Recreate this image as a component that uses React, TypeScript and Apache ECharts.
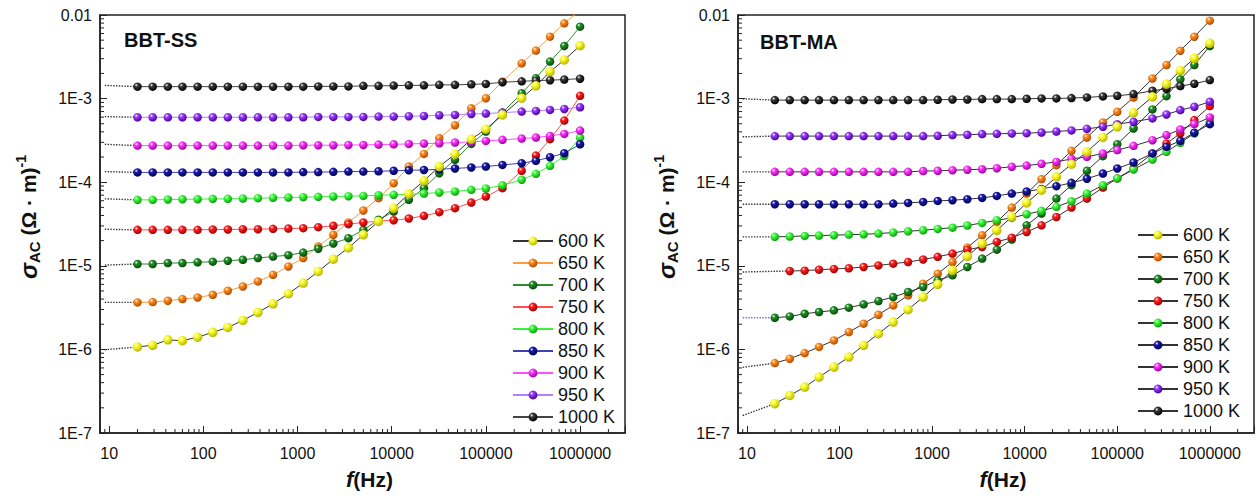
import React, { useEffect, useRef } from 'react';
import * as echarts from 'echarts';

// ---------- data ----------
const FREQ_HZ = [20, 29, 42, 60, 87, 126, 182, 263, 380, 550, 800, 1150, 1660, 2400, 3470, 5000, 7250, 10500, 15200, 22000, 32000, 47000, 70000, 100000, 150000, 240000, 340000, 480000, 680000, 1000000];
const TEMPS = ['600 K', '650 K', '700 K', '750 K', '800 K', '850 K', '900 K', '950 K', '1000 K'];

// BBT-SS (left panel), sigma_AC in (Ohm m)^-1
const SS_600 = [1.07e-6, 1.12e-6, 1.30e-6, 1.27e-6, 1.40e-6, 1.60e-6, 1.83e-6, 2.22e-6, 2.77e-6, 3.51e-6, 4.63e-6, 6.21e-6, 8.56e-6, 1.20e-5, 1.64e-5, 2.35e-5, 3.39e-5, 4.89e-5, 7.25e-5, 1.04e-4, 1.54e-4, 2.16e-4, 3.27e-4, 4.30e-4, 6.38e-4, 1.01e-3, 1.42e-3, 2.10e-3, 2.90e-3, 4.30e-3];
const SS_650 = [3.65e-6, 3.68e-6, 3.82e-6, 4.00e-6, 4.18e-6, 4.50e-6, 5.03e-6, 5.66e-6, 6.50e-6, 7.80e-6, 9.82e-6, 1.24e-5, 1.70e-5, 2.35e-5, 3.30e-5, 4.59e-5, 6.44e-5, 9.73e-5, 1.54e-4, 2.18e-4, 3.36e-4, 4.80e-4, 7.66e-4, 1.01e-3, 1.60e-3, 2.64e-3, 3.75e-3, 5.51e-3, 7.95e-3, 1.15e-2];
const SS_700 = [1.05e-5, 1.05e-5, 1.08e-5, 1.08e-5, 1.10e-5, 1.12e-5, 1.15e-5, 1.18e-5, 1.24e-5, 1.29e-5, 1.34e-5, 1.44e-5, 1.60e-5, 1.85e-5, 2.14e-5, 2.69e-5, 3.55e-5, 4.46e-5, 6.15e-5, 8.48e-5, 1.28e-4, 1.85e-4, 2.87e-4, 4.03e-4, 6.80e-4, 1.16e-3, 1.75e-3, 2.77e-3, 4.26e-3, 7.25e-3];
const SS_750 = [2.69e-5, 2.69e-5, 2.69e-5, 2.69e-5, 2.69e-5, 2.72e-5, 2.72e-5, 2.74e-5, 2.74e-5, 2.77e-5, 2.79e-5, 2.82e-5, 2.90e-5, 3.01e-5, 3.15e-5, 3.30e-5, 3.42e-5, 3.51e-5, 3.68e-5, 3.96e-5, 4.38e-5, 4.89e-5, 5.71e-5, 6.74e-5, 8.48e-5, 1.37e-4, 2.08e-4, 3.27e-4, 5.46e-4, 1.08e-3];
const SS_800 = [6.15e-5, 6.15e-5, 6.21e-5, 6.26e-5, 6.26e-5, 6.32e-5, 6.32e-5, 6.38e-5, 6.44e-5, 6.50e-5, 6.56e-5, 6.62e-5, 6.68e-5, 6.74e-5, 6.80e-5, 6.86e-5, 6.99e-5, 7.06e-5, 7.19e-5, 7.32e-5, 7.53e-5, 7.74e-5, 8.10e-5, 8.40e-5, 9.21e-5, 1.07e-4, 1.26e-4, 1.57e-4, 2.06e-4, 3.42e-4];
const SS_850 = [1.31e-4, 1.31e-4, 1.31e-4, 1.31e-4, 1.31e-4, 1.31e-4, 1.31e-4, 1.31e-4, 1.31e-4, 1.31e-4, 1.31e-4, 1.32e-4, 1.32e-4, 1.33e-4, 1.34e-4, 1.34e-4, 1.35e-4, 1.37e-4, 1.39e-4, 1.40e-4, 1.43e-4, 1.46e-4, 1.50e-4, 1.54e-4, 1.61e-4, 1.69e-4, 1.80e-4, 1.99e-4, 2.22e-4, 2.84e-4];
const SS_900 = [2.74e-4, 2.74e-4, 2.74e-4, 2.74e-4, 2.74e-4, 2.74e-4, 2.74e-4, 2.74e-4, 2.74e-4, 2.74e-4, 2.74e-4, 2.77e-4, 2.77e-4, 2.77e-4, 2.79e-4, 2.79e-4, 2.82e-4, 2.84e-4, 2.87e-4, 2.90e-4, 2.92e-4, 2.98e-4, 3.03e-4, 3.12e-4, 3.21e-4, 3.33e-4, 3.42e-4, 3.58e-4, 3.78e-4, 4.14e-4];
const SS_950 = [5.98e-4, 5.98e-4, 5.98e-4, 5.98e-4, 5.98e-4, 5.98e-4, 5.98e-4, 5.98e-4, 5.98e-4, 5.98e-4, 5.98e-4, 5.98e-4, 6.04e-4, 6.04e-4, 6.04e-4, 6.04e-4, 6.09e-4, 6.09e-4, 6.15e-4, 6.20e-4, 6.32e-4, 6.38e-4, 6.55e-4, 6.62e-4, 6.80e-4, 6.99e-4, 7.12e-4, 7.32e-4, 7.52e-4, 7.87e-4];
const SS_1000 = [1.39e-3, 1.39e-3, 1.39e-3, 1.39e-3, 1.39e-3, 1.39e-3, 1.39e-3, 1.39e-3, 1.39e-3, 1.39e-3, 1.39e-3, 1.39e-3, 1.40e-3, 1.40e-3, 1.40e-3, 1.42e-3, 1.42e-3, 1.43e-3, 1.44e-3, 1.44e-3, 1.46e-3, 1.46e-3, 1.48e-3, 1.50e-3, 1.57e-3, 1.61e-3, 1.64e-3, 1.66e-3, 1.69e-3, 1.73e-3];
// dotted low-frequency extrapolation, value at the 9 Hz end
const SS_EXT = [9.9e-7, 3.65e-6, 1.02e-5, 2.74e-5, 6.32e-5, 1.34e-4, 2.84e-4, 6.09e-4, 1.44e-3];

// BBT-MA (right panel)
const MA_600 = [2.24e-7, 2.81e-7, 3.54e-7, 4.66e-7, 6.14e-7, 8.09e-7, 1.12e-6, 1.54e-6, 2.12e-6, 2.99e-6, 4.23e-6, 6.00e-6, 8.83e-6, 1.30e-5, 1.84e-5, 2.66e-5, 3.84e-5, 5.65e-5, 8.02e-5, 1.16e-4, 1.64e-4, 2.31e-4, 3.43e-4, 4.60e-4, 6.77e-4, 1.05e-3, 1.49e-3, 2.16e-3, 3.03e-3, 4.58e-3];
const MA_650 = [6.86e-7, 7.73e-7, 9.04e-7, 1.07e-6, 1.28e-6, 1.61e-6, 2.03e-6, 2.60e-6, 3.36e-6, 4.43e-6, 6.11e-6, 8.05e-6, 1.11e-5, 1.65e-5, 2.32e-5, 3.35e-5, 4.97e-5, 7.31e-5, 1.09e-4, 1.60e-4, 2.37e-4, 3.43e-4, 5.18e-4, 6.96e-4, 1.03e-3, 1.74e-3, 2.52e-3, 3.74e-3, 5.50e-3, 8.56e-3];
const MA_700 = [2.39e-6, 2.48e-6, 2.67e-6, 2.80e-6, 2.93e-6, 3.16e-6, 3.46e-6, 3.79e-6, 4.23e-6, 4.86e-6, 5.58e-6, 6.70e-6, 7.69e-6, 9.68e-6, 1.22e-5, 1.56e-5, 2.06e-5, 3.05e-5, 4.21e-5, 6.37e-5, 9.21e-5, 1.37e-4, 2.05e-4, 2.85e-4, 4.39e-4, 7.42e-4, 1.07e-3, 1.70e-3, 2.52e-3, 4.25e-3];
const MA_750 = [null, 8.67e-6, 8.75e-6, 8.99e-6, 9.17e-6, 9.34e-6, 9.68e-6, 1.01e-5, 1.06e-5, 1.11e-5, 1.19e-5, 1.28e-5, 1.40e-5, 1.56e-5, 1.68e-5, 1.93e-5, 2.17e-5, 2.54e-5, 3.05e-5, 3.84e-5, 4.97e-5, 6.37e-5, 8.63e-5, 1.11e-4, 1.46e-4, 2.21e-4, 2.90e-4, 3.83e-4, 5.53e-4, 8.13e-4];
const MA_800 = [2.22e-5, 2.24e-5, 2.28e-5, 2.30e-5, 2.32e-5, 2.36e-5, 2.38e-5, 2.43e-5, 2.50e-5, 2.59e-5, 2.66e-5, 2.76e-5, 2.86e-5, 3.03e-5, 3.26e-5, 3.51e-5, 3.74e-5, 4.14e-5, 4.54e-5, 5.07e-5, 5.92e-5, 7.31e-5, 9.21e-5, 1.11e-4, 1.42e-4, 1.87e-4, 2.31e-4, 2.96e-4, 3.83e-4, 5.28e-4];
const MA_850 = [5.45e-5, 5.45e-5, 5.45e-5, 5.45e-5, 5.45e-5, 5.45e-5, 5.45e-5, 5.45e-5, 5.55e-5, 5.65e-5, 5.81e-5, 5.97e-5, 6.09e-5, 6.26e-5, 6.49e-5, 6.86e-5, 7.31e-5, 7.73e-5, 8.32e-5, 8.96e-5, 9.82e-5, 1.10e-4, 1.27e-4, 1.46e-4, 1.72e-4, 2.21e-4, 2.65e-4, 3.13e-4, 3.90e-4, 4.95e-4];
const MA_900 = [1.33e-4, 1.33e-4, 1.33e-4, 1.33e-4, 1.33e-4, 1.33e-4, 1.33e-4, 1.33e-4, 1.33e-4, 1.33e-4, 1.36e-4, 1.37e-4, 1.39e-4, 1.41e-4, 1.43e-4, 1.47e-4, 1.53e-4, 1.58e-4, 1.66e-4, 1.75e-4, 1.90e-4, 2.01e-4, 2.21e-4, 2.42e-4, 2.72e-4, 3.18e-4, 3.66e-4, 4.27e-4, 4.95e-4, 5.95e-4];
const MA_950 = [3.56e-4, 3.56e-4, 3.56e-4, 3.56e-4, 3.56e-4, 3.56e-4, 3.56e-4, 3.56e-4, 3.56e-4, 3.56e-4, 3.56e-4, 3.59e-4, 3.66e-4, 3.69e-4, 3.76e-4, 3.79e-4, 3.83e-4, 3.86e-4, 3.93e-4, 4.04e-4, 4.16e-4, 4.35e-4, 4.60e-4, 4.95e-4, 5.28e-4, 5.79e-4, 6.46e-4, 7.29e-4, 7.98e-4, 9.16e-4];
const MA_1000 = [9.59e-4, 9.59e-4, 9.59e-4, 9.59e-4, 9.59e-4, 9.59e-4, 9.59e-4, 9.59e-4, 9.59e-4, 9.59e-4, 9.59e-4, 9.68e-4, 9.77e-4, 9.77e-4, 9.86e-4, 9.86e-4, 9.86e-4, 9.95e-4, 1.005e-3, 1.005e-3, 1.014e-3, 1.033e-3, 1.062e-3, 1.081e-3, 1.132e-3, 1.241e-3, 1.311e-3, 1.411e-3, 1.505e-3, 1.665e-3];
const MA_EXT = [1.62e-7, 6.1e-7, 2.39e-6, 8.43e-6, 2.22e-5, 5.45e-5, 1.33e-4, 3.49e-4, 9.95e-4];

const X_TICK_LABELS = ['10', '100', '1000', '10000', '100000', '1000000'];
const Y_TICK_LABELS = ['1E-7', '1E-6', '1E-5', '1E-4', '1E-3', '0.01'];
const X_MINOR = [9, 20, 30, 40, 50, 60, 70, 80, 90, 200, 300, 400, 500, 600, 700, 800, 900, 2000, 3000, 4000, 5000, 6000, 7000, 8000, 9000, 20000, 30000, 40000, 50000, 60000, 70000, 80000, 90000, 200000, 300000, 400000, 500000, 600000, 700000, 800000, 900000, 2000000];
const Y_MINOR = [2e-7, 3e-7, 4e-7, 5e-7, 6e-7, 7e-7, 8e-7, 9e-7, 2e-6, 3e-6, 4e-6, 5e-6, 6e-6, 7e-6, 8e-6, 9e-6, 2e-5, 3e-5, 4e-5, 5e-5, 6e-5, 7e-5, 8e-5, 9e-5, 2e-4, 3e-4, 4e-4, 5e-4, 6e-4, 7e-4, 8e-4, 9e-4, 2e-3, 3e-3, 4e-3, 5e-3, 6e-3, 7e-3, 8e-3, 9e-3];
const X_MIN = 8;
const X_MAX = 3000000;
const Y_MIN = 1e-7;
const Y_MAX = 0.01;
const EXT_FREQ = 9;

const SS_DATA = [SS_600, SS_650, SS_700, SS_750, SS_800, SS_850, SS_900, SS_950, SS_1000];
const MA_DATA = [MA_600, MA_650, MA_700, MA_750, MA_800, MA_850, MA_900, MA_950, MA_1000];

// ---------- styles ----------
const FONT = '"Liberation Sans", Arial, Helvetica, sans-serif';
const BALL = [
  ['#ffff30', '#b5b500'],
  ['#ff8c1f', '#b04c00'],
  ['#22902a', '#064a06'],
  ['#ff2020', '#a00000'],
  ['#3cff3c', '#0c9c0c'],
  ['#1c1ca8', '#00005a'],
  ['#ff38ff', '#a000a0'],
  ['#9a3cff', '#4c009c'],
  ['#3a3a3a', '#000000'],
];
const SS_LINE = ['#333333', '#ff9a45', '#2e8b2e', '#ff5050', '#40ee40', '#4040b0', '#ff50ff', '#b080ff', '#444444'];
const MA_LINE_COLOR = '#333333';
const MA_EXT_COLOR = ['#333', '#333', '#7a66ee', '#333', '#333', '#333', '#333', '#333', '#333'];

function ball(i: number) {
  return new echarts.graphic.RadialGradient(0.36, 0.32, 0.7, [
    { offset: 0, color: '#ffffff' },
    { offset: 0.28, color: BALL[i][0] },
    { offset: 1, color: BALL[i][1] },
  ]);
}

function fmtX(v: number) {
  const l = Math.log10(v);
  const r = Math.round(l);
  if (Math.abs(l - r) > 1e-6) return '';
  return X_TICK_LABELS[r - 1] ?? '';
}
function fmtY(v: number) {
  const l = Math.log10(v);
  const r = Math.round(l);
  if (Math.abs(l - r) > 1e-6) return '';
  return Y_TICK_LABELS[r + 7] ?? '';
}

function buildPanel(gi: number, prefix: string, data: (number | null)[][], ext: number[], lineColors: string[], extColors: string[]) {
  const series: any[] = [];
  const legendNames: string[] = [];
  // dotted extrapolations
  data.forEach((vals, i) => {
    const firstIdx = vals.findIndex((v) => v !== null);
    series.push({
      type: 'line',
      name: `${prefix} ext ${TEMPS[i]}`,
      xAxisIndex: gi,
      yAxisIndex: gi,
      symbol: 'none',
      silent: true,
      z: 1,
      lineStyle: { type: 'dotted', color: extColors[i], width: 1.4 },
      data: [[EXT_FREQ, ext[i]], [FREQ_HZ[firstIdx], vals[firstIdx]]],
    });
  });
  const order = [1, 2, 3, 4, 5, 6, 7, 8, 0];
  order.forEach((i) => {
    const name = `${prefix} ${TEMPS[i]}`;
    series.push({
      type: 'line',
      name,
      xAxisIndex: gi,
      yAxisIndex: gi,
      symbol: 'circle',
      symbolSize: i === 0 ? 9.5 : 8.5,
      z: i === 0 ? 4 : 3,
      lineStyle: { color: lineColors[i], width: 1 },
      itemStyle: { color: ball(i) },
      data: FREQ_HZ.map((f, k) => [f, data[i][k]]).filter((p) => p[1] !== null),
    });
  });
  TEMPS.forEach((t) => legendNames.push(`${prefix} ${t}`));
  // minor ticks
  series.push({
    type: 'custom',
    name: `${prefix} xminor`,
    xAxisIndex: gi,
    yAxisIndex: gi,
    silent: true,
    z: 5,
    data: X_MINOR.map((v) => [v, Y_MIN]),
    renderItem: (params: any, api: any) => {
      const p = api.coord([api.value(0), api.value(1)]);
      return { type: 'line', shape: { x1: p[0], y1: p[1], x2: p[0], y2: p[1] - 4 }, style: { stroke: '#222', lineWidth: 1 } };
    },
  });
  series.push({
    type: 'custom',
    name: `${prefix} yminor`,
    xAxisIndex: gi,
    yAxisIndex: gi,
    silent: true,
    z: 5,
    data: Y_MINOR.map((v) => [X_MIN, v]),
    renderItem: (params: any, api: any) => {
      const p = api.coord([api.value(0), api.value(1)]);
      return { type: 'line', shape: { x1: p[0], y1: p[1], x2: p[0] + 4, y2: p[1] }, style: { stroke: '#222', lineWidth: 1 } };
    },
  });
  return { series, legendNames };
}

function axisPair(gi: number) {
  const xAxis = {
    type: 'log',
    gridIndex: gi,
    logBase: 10,
    min: X_MIN,
    max: X_MAX,
    splitNumber: 5,
    axisLine: { show: true, lineStyle: { color: '#222', width: 1.5 } },
    axisTick: { show: true, inside: true, length: 7, lineStyle: { color: '#222', width: 1 } },
    axisLabel: { formatter: fmtX, interval: 0, margin: 12, color: '#111', fontSize: 16, fontFamily: FONT },
    splitLine: { show: false },
    name: '{i|f}{n|(Hz)}',
    nameLocation: 'middle',
    nameGap: 35,
    nameTextStyle: {
      padding: [0, 0, 0, 14],
      rich: {
        i: { fontSize: 22, fontStyle: 'italic', fontWeight: 'bold', fontFamily: FONT, color: '#111' },
        n: { fontSize: 21, fontWeight: 'bold', fontFamily: FONT, color: '#111' },
      },
    },
  };
  const yAxis = {
    type: 'log',
    gridIndex: gi,
    logBase: 10,
    min: Y_MIN,
    max: Y_MAX,
    splitNumber: 5,
    axisLine: { show: true, lineStyle: { color: '#222', width: 1.5 } },
    axisTick: { show: true, inside: true, length: 7, lineStyle: { color: '#222', width: 1 } },
    axisLabel: { formatter: fmtY, interval: 0, margin: 8, color: '#111', fontSize: 16, fontFamily: FONT },
    splitLine: { show: false },
    name: '{s|σ}{sub|AC}{n| (Ω · m)}{sup|-1}',
    nameLocation: 'middle',
    nameRotate: 90,
    nameGap: 58,
    nameTextStyle: {
      padding: [0, 0, 0, 14],
      rich: {
        s: { fontSize: 24, fontStyle: 'italic', fontWeight: 'bold', fontFamily: FONT, color: '#111', lineHeight: 28, verticalAlign: 'middle' },
        sub: { fontSize: 15, fontWeight: 'bold', fontFamily: FONT, color: '#111', lineHeight: 28, verticalAlign: 'bottom' },
        n: { fontSize: 21, fontWeight: 'bold', fontFamily: FONT, color: '#111', lineHeight: 28, verticalAlign: 'middle' },
        sup: { fontSize: 14, fontWeight: 'bold', fontFamily: FONT, color: '#111', lineHeight: 28, verticalAlign: 'top' },
      },
    },
  };
  return { xAxis, yAxis };
}

export default function App() {
  const ref = useRef<HTMLDivElement>(null);
  useEffect(() => {
    if (!ref.current) return;
    const chart = echarts.init(ref.current, null, { renderer: 'svg' });
    const ss = buildPanel(0, 'SS', SS_DATA, SS_EXT, SS_LINE, SS_LINE.map(() => '#333'));
    const ma = buildPanel(1, 'MA', MA_DATA, MA_EXT, TEMPS.map(() => MA_LINE_COLOR), MA_EXT_COLOR);
    const a0 = axisPair(0);
    const a1 = axisPair(1);
    const legendCommon = {
      orient: 'vertical',
      padding: 0,
      itemWidth: 40,
      itemHeight: 11,
      itemGap: 4,
      selectedMode: false,
      formatter: (n: string) => n.slice(3),
      textStyle: { fontSize: 18, fontFamily: FONT, color: '#111', lineHeight: 18 },
    };
    chart.setOption({
      animation: false,
      backgroundColor: '#ffffff',
      title: [
        { text: 'BBT-SS', left: 124, top: 30, padding: 0, textStyle: { fontSize: 20, fontWeight: 'bold', fontFamily: FONT, color: '#111' } },
        { text: 'BBT-MA', left: 760, top: 32, padding: 0, textStyle: { fontSize: 20, fontWeight: 'bold', fontFamily: FONT, color: '#111' } },
      ],
      grid: [
        { left: 100, top: 15, width: 525, height: 418, show: true, borderColor: '#222', borderWidth: 1.5, backgroundColor: 'transparent' },
        { left: 738, top: 15, width: 516, height: 418, show: true, borderColor: '#222', borderWidth: 1.5, backgroundColor: 'transparent' },
      ],
      xAxis: [a0.xAxis, a1.xAxis],
      yAxis: [a0.yAxis, a1.yAxis],
      legend: [
        { ...legendCommon, left: 512, top: 232, data: ss.legendNames },
        { ...legendCommon, left: 1137, top: 226, data: ma.legendNames },
      ],
      series: [...ss.series, ...ma.series],
    });
    return () => chart.dispose();
  }, []);
  return <div ref={ref} style={{ position: 'fixed', left: 0, top: 0, width: 1257, height: 498, background: '#fff' }} />;
}
